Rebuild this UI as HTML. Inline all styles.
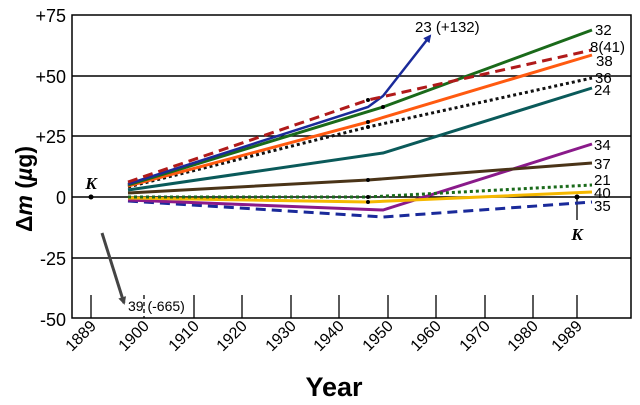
<!DOCTYPE html>
<html><head><meta charset="utf-8"><style>
html,body{margin:0;padding:0;background:#fff;}
svg{display:block;font-family:"Liberation Sans",Arial,sans-serif;}
</style></head><body>
<svg width="640" height="405" viewBox="0 0 640 405" xmlns="http://www.w3.org/2000/svg">
<defs>
<marker id="ab" markerWidth="8" markerHeight="8" refX="6" refY="4" orient="auto" markerUnits="userSpaceOnUse"><path d="M0,0 L8,4 L0,8 Z" fill="#1a2a9a"/></marker>
<marker id="ag" markerWidth="8" markerHeight="8" refX="6" refY="4" orient="auto" markerUnits="userSpaceOnUse"><path d="M0,0 L8,4 L0,8 Z" fill="#444"/></marker>
</defs>
<g stroke="#000" stroke-width="1.5" fill="none">
<rect x="72" y="15" width="559" height="303"/>
<line x1="72" y1="76" x2="631" y2="76"/>
<line x1="72" y1="136" x2="631" y2="136"/>
<line x1="72" y1="197" x2="631" y2="197"/>
<line x1="72" y1="258" x2="631" y2="258"/>
<g stroke-width="1.3">
<line x1="91" y1="295" x2="91" y2="318"/>
<line x1="144" y1="295" x2="144" y2="318" stroke-dasharray="4,3"/>
<line x1="194" y1="295" x2="194" y2="318"/>
<line x1="242" y1="295" x2="242" y2="318"/>
<line x1="291" y1="295" x2="291" y2="318"/>
<line x1="339" y1="295" x2="339" y2="318"/>
<line x1="388" y1="295" x2="388" y2="318"/>
<line x1="436" y1="295" x2="436" y2="318"/>
<line x1="485" y1="295" x2="485" y2="318"/>
<line x1="533" y1="295" x2="533" y2="318"/>
<line x1="577" y1="295" x2="577" y2="318"/>
<line x1="577" y1="197" x2="577" y2="220"/>
</g>
</g>
<g font-size="18" text-anchor="end" fill="#000">
<text x="66" y="22">+75</text><text x="66" y="83">+50</text><text x="66" y="143">+25</text>
<text x="66" y="204">0</text><text x="66" y="265">-25</text><text x="66" y="326">-50</text>
</g>
<g font-size="16" text-anchor="end" fill="#000">
<text transform="translate(97,327) rotate(-45)">1889</text>
<text transform="translate(150,327) rotate(-45)">1900</text>
<text transform="translate(200,327) rotate(-45)">1910</text>
<text transform="translate(248,327) rotate(-45)">1920</text>
<text transform="translate(297,327) rotate(-45)">1930</text>
<text transform="translate(345,327) rotate(-45)">1940</text>
<text transform="translate(394,327) rotate(-45)">1950</text>
<text transform="translate(442,327) rotate(-45)">1960</text>
<text transform="translate(491,327) rotate(-45)">1970</text>
<text transform="translate(539,327) rotate(-45)">1980</text>
<text transform="translate(583,327) rotate(-45)">1989</text>
</g>
<text x="334" y="396" font-size="27" font-weight="bold" text-anchor="middle">Year</text>
<text transform="translate(32,232) rotate(-90)" font-size="23" font-weight="bold">Δ<tspan font-style="italic">m</tspan> (<tspan font-style="italic">µ</tspan>g)</text>
<g fill="none" stroke-width="3">
<polyline points="128,201 383,217 592,202" stroke="#1a2a9a" stroke-dasharray="10,6"/>
<polyline points="128,200 383,210 592,144" stroke="#8a1a8a"/>
<polyline points="128,198 368,202 592,192" stroke="#f5b800"/>
<polyline points="128,197 368,197 592,185" stroke="#1a6a1a" stroke-dasharray="3,3"/>
<polyline points="128,193 368,180 592,163" stroke="#4a3418"/>
<polyline points="128,190 383,153 592,88" stroke="#0a5a5a"/>
<polyline points="128,187 368,127 592,78" stroke="#111" stroke-dasharray="3,3"/>
<polyline points="128,186 368,122 592,55" stroke="#ff5a10"/>
<polyline points="128,185 383,107 592,30" stroke="#1a6a1a"/>
<polyline points="128,184 368,107 383,96 430,36" stroke="#1a2a9a" stroke-width="2.5" marker-end="url(#ab)"/>
<polyline points="128,182 368,100 592,50" stroke="#b01a1a" stroke-dasharray="10,6"/>
</g>
<line x1="102" y1="233" x2="124" y2="303" stroke="#444" stroke-width="3" marker-end="url(#ag)"/>
<g fill="#000">
<circle cx="91" cy="197" r="2.5"/><circle cx="577" cy="197" r="2.5"/>
<circle cx="368" cy="100" r="2"/><circle cx="383" cy="107" r="2"/><circle cx="368" cy="122" r="2"/><circle cx="368" cy="127" r="2"/>
<circle cx="368" cy="180" r="2"/><circle cx="368" cy="197" r="2"/><circle cx="368" cy="202" r="2"/>
</g>
<g font-size="15" fill="#000">
<text x="595" y="35">32</text><text x="590" y="52">8(41)</text><text x="596" y="66">38</text>
<text x="595" y="83">36</text><text x="594" y="95">24</text><text x="594" y="150">34</text>
<text x="594" y="169">37</text><text x="594" y="185">21</text><text x="594" y="198">40</text>
<text x="594" y="211">35</text>
<text x="415" y="32">23 (+132)</text>
</g>
<text x="128" y="311" font-size="14">39 (-665)</text>
<g font-family="'Liberation Serif',serif" font-size="17" font-weight="bold" font-style="italic" text-anchor="middle">
<text x="91" y="189">K</text><text x="577" y="240">K</text>
</g>
</svg>
</body></html>
